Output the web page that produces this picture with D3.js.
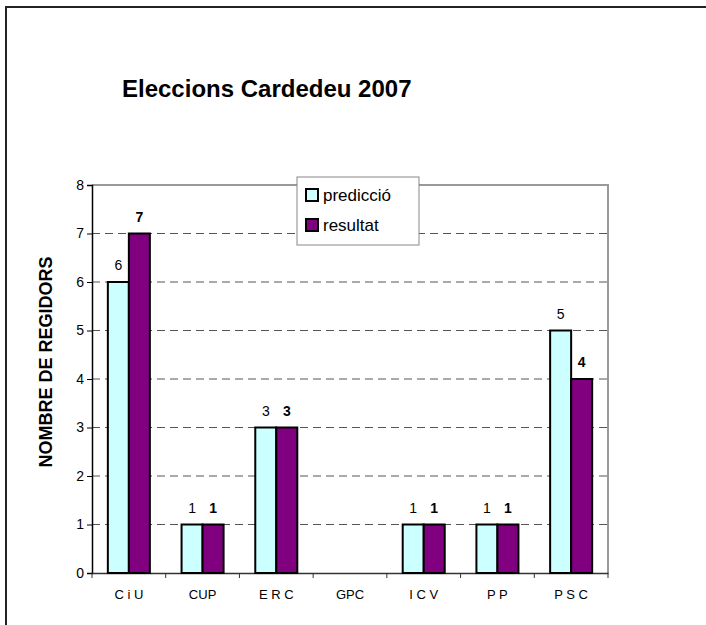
<!DOCTYPE html>
<html>
<head>
<meta charset="utf-8">
<script src="https://cdn.jsdelivr.net/npm/d3@7"></script>
<style>
  body { margin: 0; background: #fff; }
  text { font-family: "Liberation Sans", Arial, sans-serif; }
</style>
</head>
<body>
<svg id="chart"></svg>
<script>
// data (GPC got no seats, no bars drawn)
const partits = ["C i U", "CUP", "E R C", "GPC", "I C V", "P P", "P S C"];
const prediccio = [6, 1, 3, null, 1, 1, 5];
const resultat = [7, 1, 3, null, 1, 1, 4];
const series = ["predicció", "resultat"];
const yTicks = [0, 1, 2, 3, 4, 5, 6, 7, 8];

const width = 706, height = 625;
const margin = {top: 185, right: 98, bottom: 52, left: 92};
const innerwidth = width - margin.left - margin.right;
const innerheight = height - margin.top - margin.bottom;

const svg = d3.select("#chart")
    .attr("width", width)
    .attr("height", height);

// outer frame (only top + left show in the picture)
svg.append("path")
    .attr("d", "M6,626 L6,7 L707,7")
    .attr("fill", "none")
    .attr("stroke", "#222")
    .attr("stroke-width", 2);

svg.append("text")
    .attr("x", 122)
    .attr("y", 97)
    .attr("font-size", 24)
    .attr("font-weight", "bold")
    .text("Eleccions Cardedeu 2007");

const g = svg.append("g")
    .attr("transform", "translate(" + margin.left + "," + margin.top + ")");

let x = d3.scaleBand()
    .domain(partits)
    .range([0, innerwidth]);

let xs = d3.scaleBand()
    .domain(series)
    .range([0, x.bandwidth() * 0.57]);

let y = d3.scaleLinear()
    .domain([0, 8])
    .range([innerheight, 0]);

// grid lines
g.selectAll("line.grid")
    .data(yTicks.filter(d => d > 0 && d < 8))
    .enter()
    .append("line")
    .attr("class", "grid")
    .attr("x1", 0)
    .attr("x2", innerwidth)
    .attr("y1", d => y(d))
    .attr("y2", d => y(d))
    .attr("stroke", "#555")
    .attr("stroke-dasharray", "8,5");

// plot border top + right
g.append("path")
    .attr("d", "M0," + y(8) + " L" + innerwidth + "," + y(8) + " L" + innerwidth + "," + y(0))
    .attr("fill", "none")
    .attr("stroke", "#999")
    .attr("stroke-width", 2);

// y axis
const yAxis = g.append("g")
    .call(d3.axisLeft(y).tickValues(yTicks).tickSize(5).tickPadding(3).tickFormat(d3.format("d")));
yAxis.select(".domain").attr("stroke", "#000").attr("stroke-width", 1.5);
yAxis.selectAll("text").attr("font-size", 14).attr("font-family", "Liberation Sans, Arial, sans-serif");

// x axis, ticks on category boundaries
const xAxis = g.append("g")
    .attr("transform", "translate(0," + innerheight + ")")
    .call(d3.axisBottom(x).tickSize(0).tickPadding(17));
xAxis.select(".domain").attr("stroke", "#333").attr("stroke-width", 1.5);
xAxis.selectAll("text").attr("font-size", 13).attr("font-family", "Liberation Sans, Arial, sans-serif");

g.selectAll("line.xtick")
    .data(d3.range(partits.length + 1))
    .enter()
    .append("line")
    .attr("class", "xtick")
    .attr("x1", d => d * x.step())
    .attr("x2", d => d * x.step())
    .attr("y1", innerheight)
    .attr("y2", innerheight + 5)
    .attr("stroke", "#333");

const colors = {"predicció": "#ccffff", "resultat": "#800080"};

const bars = [];
partits.forEach((p, i) => {
    if (prediccio[i] != null) bars.push({p: p, s: "predicció", v: prediccio[i]});
    if (resultat[i] != null) bars.push({p: p, s: "resultat", v: resultat[i]});
});

const off = (x.bandwidth() - xs.range()[1]) / 2;

g.selectAll("rect.bar")
    .data(bars)
    .enter()
    .append("rect")
    .attr("class", "bar")
    .attr("x", d => x(d.p) + off + xs(d.s))
    .attr("y", d => y(d.v))
    .attr("width", xs.bandwidth())
    .attr("height", d => innerheight - y(d.v))
    .attr("fill", d => colors[d.s])
    .attr("stroke", "#000")
    .attr("stroke-width", 2);

g.selectAll("text.lbl")
    .data(bars)
    .enter()
    .append("text")
    .attr("class", "lbl")
    .attr("x", d => x(d.p) + off + xs(d.s) + xs.bandwidth() / 2)
    .attr("y", d => y(d.v) - 12)
    .attr("text-anchor", "middle")
    .attr("font-size", 14)
    .attr("font-weight", d => d.s == "resultat" ? "bold" : "normal")
    .text(d => d.v);

// legend
const leg = svg.append("g").attr("transform", "translate(297,177)");
leg.append("rect")
    .attr("width", 122)
    .attr("height", 68)
    .attr("fill", "#fff")
    .attr("stroke", "#888");
series.forEach((s, i) => {
    leg.append("rect")
        .attr("x", 9)
        .attr("y", 12 + i * 30)
        .attr("width", 12)
        .attr("height", 12)
        .attr("fill", colors[s])
        .attr("stroke", "#000")
        .attr("stroke-width", 2);
    leg.append("text")
        .attr("x", 26)
        .attr("y", 24 + i * 30)
        .attr("font-size", 17)
        .text(s);
});

// y axis title
svg.append("text")
    .attr("transform", "translate(52,362) rotate(-90)")
    .attr("text-anchor", "middle")
    .attr("font-size", 18)
    .attr("font-weight", "bold")
    .text("NOMBRE DE REGIDORS");
</script>
</body>
</html>
